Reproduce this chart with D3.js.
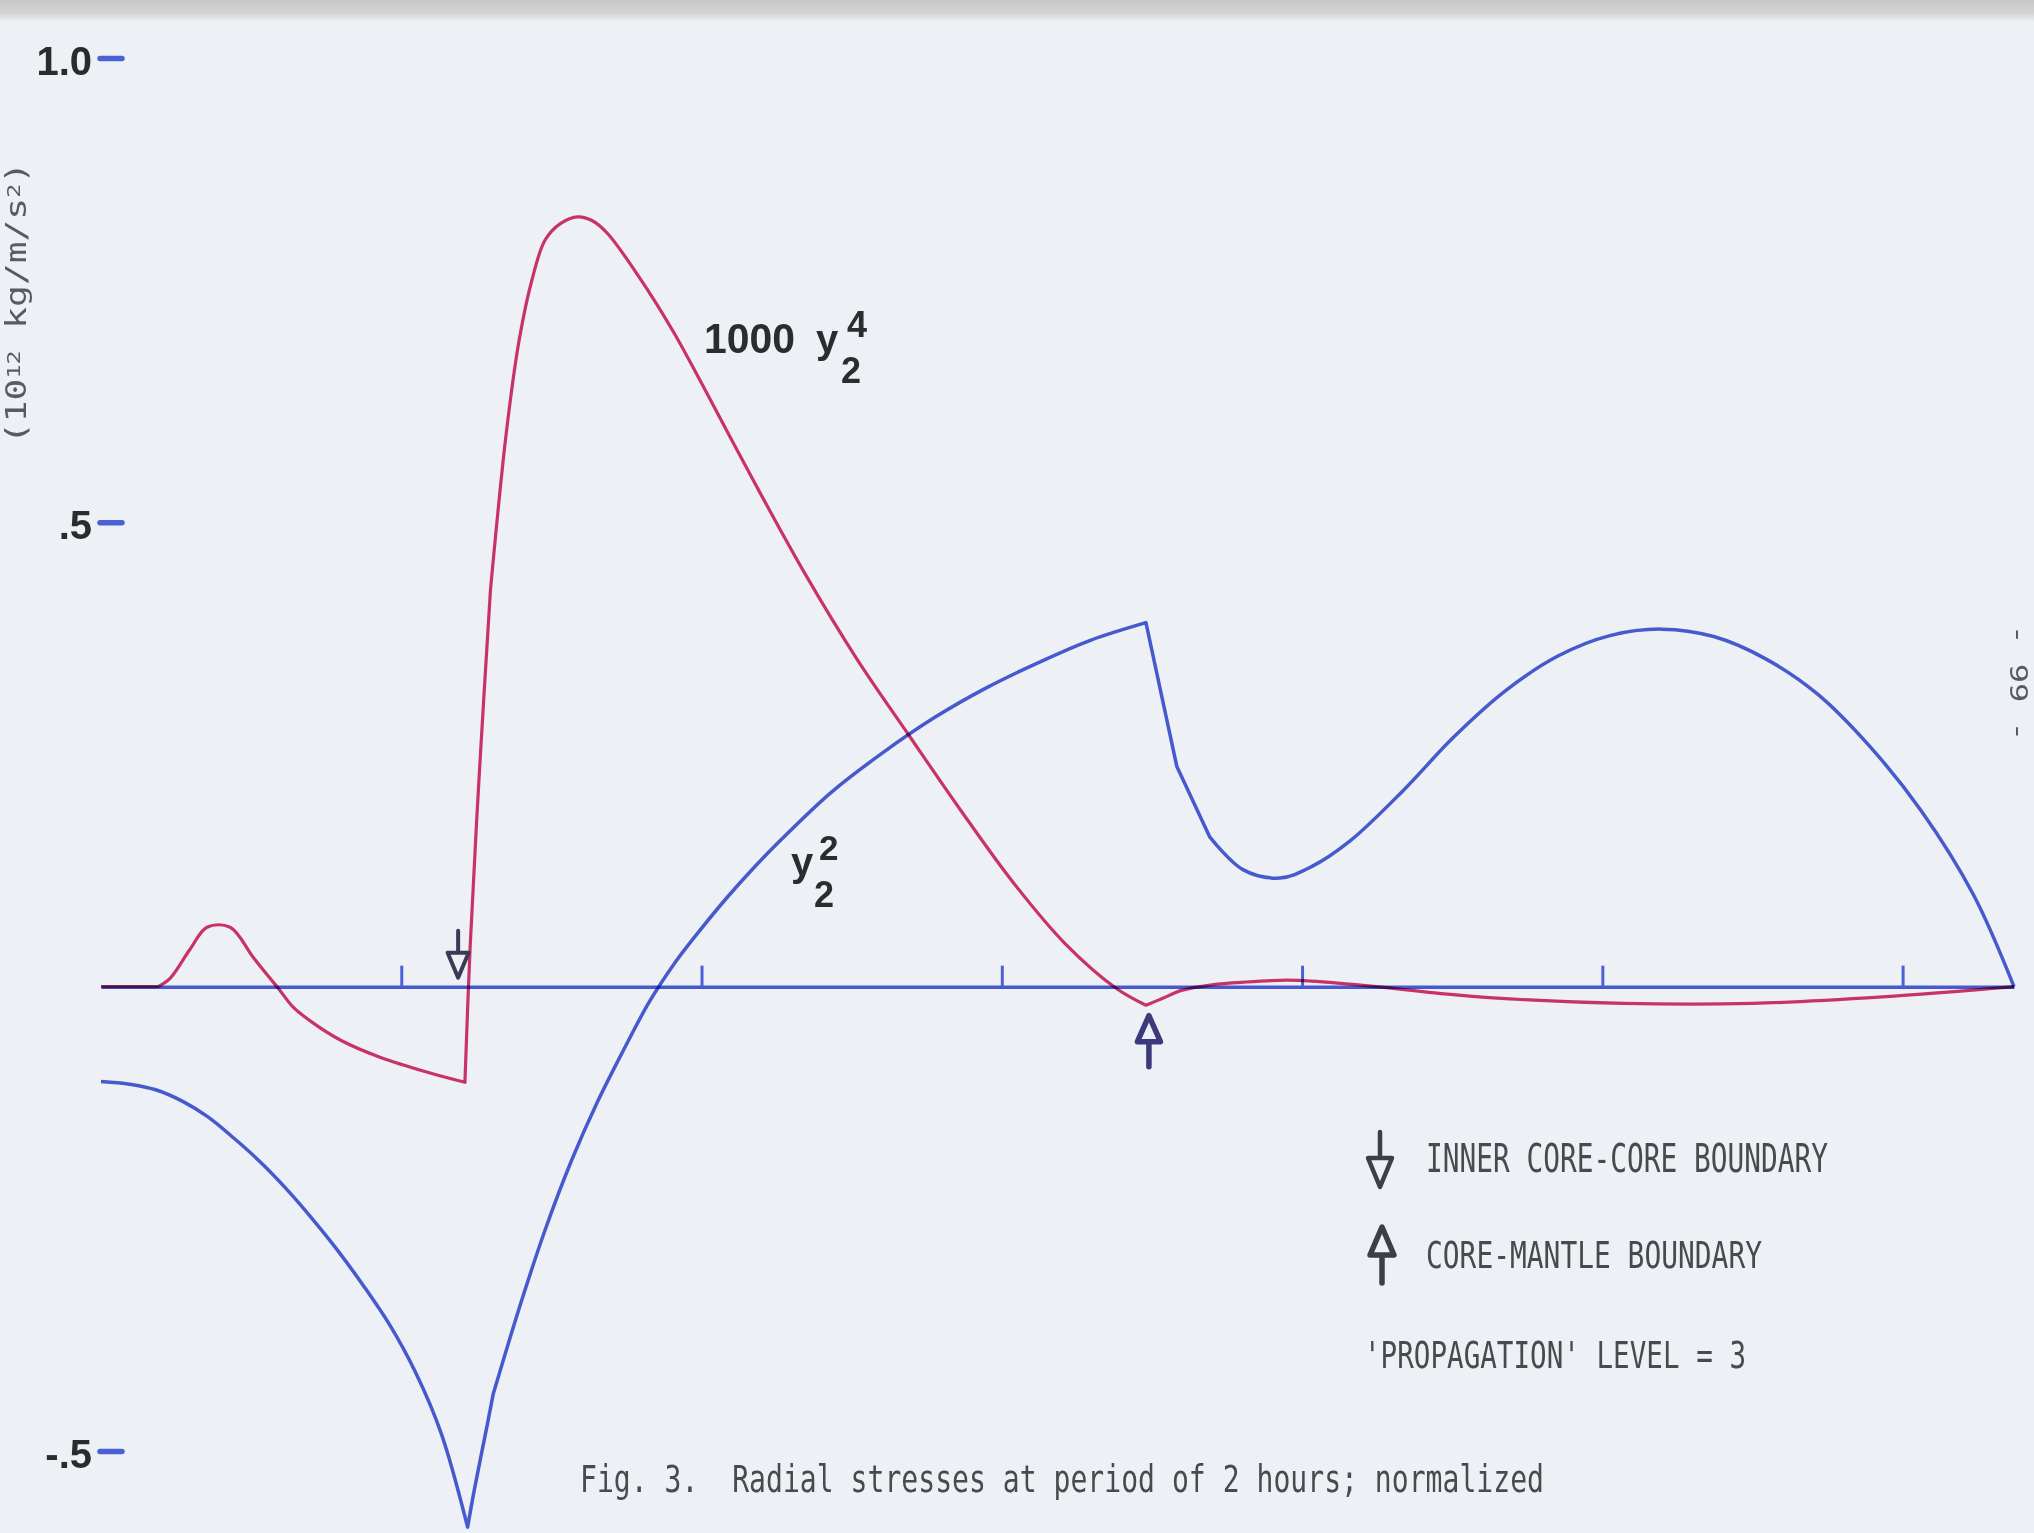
<!DOCTYPE html>
<html>
<head>
<meta charset="utf-8">
<script src="https://cdn.jsdelivr.net/npm/d3@7"></script>
<style>
  html, body { margin: 0; padding: 0; background: #edf0f5; }
  svg { display: block; }
</style>
</head>
<body>
<svg id="chart" width="2034" height="1533"></svg>
<script>
// Horizontal axis: radius in km, ticks every 1000 km
const radiusTicks = [1000, 2000, 3000, 4000, 5000, 6000];
const earthRadius = 6371;
const icbRadius = 1221;   // inner core - core boundary
const cmbRadius = 3480;   // core - mantle boundary

// Vertical axis ticks (10^12 kg/m/s^2, normalized)
const valueTicks = [1.0, 0.5, -0.5];
const valueTickLabels = ["1.0", ".5", "-.5"];

// 1000 * y2^4  (radius km, value)
const y4Radius = [0, 190, 230, 296, 353, 430, 506, 563, 596, 640, 706, 800, 929, 1096, 1212,
  1229, 1260, 1297, 1350, 1393, 1436, 1479, 1531, 1588, 1635, 1687, 1825, 1912, 1998,
  2171, 2344, 2517, 2690, 2863, 3036, 3209, 3382, 3480, 3540, 3598, 3700, 3814, 3950,
  4030, 4247, 4450, 4636, 5068, 5501, 5933, 6371];
const y4Value = [0, 0, 0.009, 0.040, 0.064, 0.064, 0.032, 0.009, -0.004, -0.022, -0.039, -0.058, -0.076, -0.093, -0.103,
  0.040, 0.230, 0.427, 0.597, 0.697, 0.762, 0.804, 0.822, 0.829, 0.825, 0.811, 0.748, 0.702, 0.651,
  0.546, 0.445, 0.353, 0.271, 0.190, 0.113, 0.047, -0.002, -0.020, -0.012, -0.004, 0.002, 0.005, 0.007,
  0.006, 0.000, -0.007, -0.012, -0.018, -0.018, -0.011, 0];

// y2^2  (radius km, value)
const y2Radius = [0, 96, 182, 269, 355, 442, 528, 615, 701, 788, 874, 961, 1047, 1133, 1221,
  1242, 1285, 1306, 1393, 1479, 1566, 1652, 1739, 1825, 1912, 1998, 2085, 2171, 2258, 2431, 2604,
  2777, 2950, 3122, 3295, 3480, 3583, 3693, 3803, 3926, 4030, 4160, 4333, 4506, 4679, 4852,
  5025, 5198, 5371, 5544, 5717, 5890, 6063, 6236, 6371];
const y2Value = [-0.102, -0.105, -0.111, -0.123, -0.140, -0.163, -0.188, -0.217, -0.249, -0.284, -0.322, -0.364, -0.415, -0.481, -0.582,
  -0.544, -0.474, -0.439, -0.346, -0.262, -0.188, -0.125, -0.069, -0.017, 0.026, 0.062, 0.096, 0.127, 0.156, 0.209, 0.252,
  0.290, 0.322, 0.349, 0.373, 0.392, 0.237, 0.161, 0.126, 0.117, 0.129, 0.157, 0.210, 0.269, 0.319, 0.356,
  0.378, 0.385, 0.377, 0.353, 0.315, 0.259, 0.189, 0.099, 0];

// radii where each plotted curve has a sharp corner
const y4Corners = [190, 1212, 1297, 3480];
const y2Corners = [1221, 1306, 3480, 3583, 3693];

const legendItems = ["INNER CORE-CORE BOUNDARY", "CORE-MANTLE BOUNDARY"];
const levelNote = "'PROPAGATION' LEVEL = 3";
const caption = "Fig. 3.  Radial stresses at period of 2 hours; normalized";

const blue = "#4b60d6", red = "#d8356c", ink = "#3a3c55", type = "#4a4a4e";

const svg = d3.select("#chart");

// paper and the scanner's shadow along the top edge
const defs = svg.append("defs");
const grad = defs.append("linearGradient").attr("id", "topShade").attr("x1", 0).attr("y1", 0).attr("x2", 0).attr("y2", 1);
grad.append("stop").attr("offset", "0").attr("stop-color", "#c6c6c7");
grad.append("stop").attr("offset", "0.6").attr("stop-color", "#d4d5d7");
grad.append("stop").attr("offset", "1").attr("stop-color", "#edf0f5");
svg.append("rect").attr("width", 2034).attr("height", 1533).attr("fill", "#edf0f5");
svg.append("rect").attr("width", 2034).attr("height", 22).attr("fill", "url(#topShade)");

const x = d3.scaleLinear().domain([0, earthRadius]).range([101, 2014]);
const y = d3.scaleLinear().domain([-0.5, 1.0]).range([1451, 58]);

// zero line with radius ticks
const xAxis = svg.append("g")
  .attr("transform", `translate(0,${y(0)})`)
  .call(d3.axisTop(x).tickValues(radiusTicks).tickSize(21).tickSizeOuter(0).tickFormat(""));
xAxis.select(".domain").attr("stroke", blue).attr("stroke-width", 3.5).style("mix-blend-mode", "multiply");
xAxis.selectAll(".tick line").attr("stroke", blue).attr("stroke-width", 3);

// value ticks: short blue dashes with lettered labels
const yAxis = svg.append("g")
  .attr("transform", "translate(122,0)")
  .call(d3.axisLeft(y).tickValues(valueTicks).tickSize(22).tickPadding(8)
    .tickFormat((d, i) => valueTickLabels[i]));
yAxis.select(".domain").remove();
yAxis.selectAll(".tick line").attr("stroke", blue).attr("stroke-width", 5.5).attr("stroke-linecap", "round");
yAxis.selectAll(".tick text")
  .attr("fill", "#2a2b2e").attr("font-family", "Liberation Sans, Arial, sans-serif")
  .attr("font-weight", "bold").attr("font-size", 40).attr("dy", "0.4em");

// curves: smooth between corners, sharp at the corners
function cornerPath(rs, vs, corners) {
  const pts = d3.zip(rs, vs);
  const pieces = [];
  let cur = [];
  pts.forEach(p => {
    cur.push(p);
    if (corners.includes(p[0]) && cur.length > 1) { pieces.push(cur); cur = [p]; }
  });
  if (cur.length > 1) pieces.push(cur);
  const gen = d3.line().x(d => x(d[0])).y(d => y(d[1])).curve(d3.curveCatmullRom.alpha(0.5));
  return pieces.map((pc, i) => i === 0 ? gen(pc) : gen(pc).replace(/^M/, "L")).join("");
}
svg.append("path")
  .attr("d", cornerPath(y2Radius, y2Value, y2Corners))
  .attr("fill", "none").attr("stroke", blue).attr("stroke-width", 3.5)
  .attr("stroke-linejoin", "round").style("mix-blend-mode", "multiply");
svg.append("path")
  .attr("d", cornerPath(y4Radius, y4Value, y4Corners))
  .attr("fill", "none").attr("stroke", red).attr("stroke-width", 3.2)
  .attr("stroke-linejoin", "round").style("mix-blend-mode", "multiply");

// boundary markers
function downArrow(g, cx, tipY, w, h, stem, color, sw) {
  g.append("path")
    .attr("d", `M${cx - w / 2},${tipY - h} L${cx + w / 2},${tipY - h} L${cx},${tipY} Z M${cx},${tipY - h} V${tipY - h - stem}`)
    .attr("fill", "none").attr("stroke", color).attr("stroke-width", sw).attr("stroke-linejoin", "round").attr("stroke-linecap", "round");
}
function upArrow(g, cx, tipY, w, h, stem, color, sw) {
  g.append("path")
    .attr("d", `M${cx},${tipY} L${cx + w / 2},${tipY + h} L${cx - w / 2},${tipY + h} Z M${cx},${tipY + h} V${tipY + h + stem}`)
    .attr("fill", "none").attr("stroke", color).attr("stroke-width", sw).attr("stroke-linejoin", "round").attr("stroke-linecap", "round");
}
const marks = svg.append("g");
downArrow(marks, x(icbRadius) - 9.5, y(0) - 9, 21, 25, 22, ink, 4);
upArrow(marks, x(cmbRadius) + 3, y(0) + 29, 23, 26, 25, "#3c3a7c", 5.5);

// curve labels
const letter = "Liberation Sans, Arial, sans-serif";
const lbl = svg.append("g").attr("fill", "#2b2c2f").attr("font-family", letter).attr("font-weight", "bold");
lbl.append("text").attr("x", 704).attr("y", 353).attr("font-size", 42).attr("textLength", 91).attr("lengthAdjust", "spacingAndGlyphs").text("1000");
lbl.append("text").attr("x", 816).attr("y", 353).attr("font-size", 40).text("y");
lbl.append("text").attr("x", 847).attr("y", 337).attr("font-size", 36).text("4");
lbl.append("text").attr("x", 841).attr("y", 383).attr("font-size", 36).text("2");
lbl.append("text").attr("x", 791).attr("y", 876).attr("font-size", 40).text("y");
lbl.append("text").attr("x", 819).attr("y", 860).attr("font-size", 35).text("2");
lbl.append("text").attr("x", 814).attr("y", 907).attr("font-size", 36).text("2");

// typed legend and caption
const mono = "DejaVu Sans Mono, Liberation Mono, monospace";
const typed = svg.append("g").attr("fill", type).attr("font-family", mono);
downArrow(typed, 1380, 1187, 24, 29, 26, "#3d3e46", 4.5);
upArrow(typed, 1382, 1227, 24, 28, 28, "#3d3e46", 5.5);
typed.append("text").attr("x", 1426).attr("y", 1172).attr("font-size", 39)
  .attr("textLength", 402).attr("lengthAdjust", "spacingAndGlyphs").text(legendItems[0]);
typed.append("text").attr("x", 1426).attr("y", 1268).attr("font-size", 37)
  .attr("textLength", 336).attr("lengthAdjust", "spacingAndGlyphs").text(legendItems[1]);
typed.append("text").attr("x", 1364).attr("y", 1368).attr("font-size", 37)
  .attr("textLength", 382).attr("lengthAdjust", "spacingAndGlyphs").text(levelNote);
typed.append("text").attr("x", 580).attr("y", 1492).attr("font-size", 37)
  .attr("textLength", 964).attr("lengthAdjust", "spacingAndGlyphs").attr("xml:space", "preserve").style("white-space", "pre").text(caption);

// unit label along the left margin
const unit = svg.append("text").attr("transform", "translate(26,303) rotate(-90)")
  .attr("text-anchor", "middle").attr("fill", "#5a5a60").attr("font-family", mono).attr("font-size", 28)
  .attr("textLength", 282).attr("lengthAdjust", "spacingAndGlyphs");
unit.append("tspan").text("(10");
unit.append("tspan").attr("baseline-shift", "6").attr("font-size", 18).text("12");
unit.append("tspan").text(" kg/m/s");
unit.append("tspan").attr("baseline-shift", "6").attr("font-size", 18).text("2");
unit.append("tspan").text(")");

// page number in the right margin
svg.append("text").attr("transform", "translate(2010,683) rotate(90)")
  .attr("text-anchor", "middle").attr("fill", "#5a5a60").attr("font-family", mono).attr("font-size", 25)
  .attr("textLength", 116).attr("lengthAdjust", "spacingAndGlyphs").style("white-space", "pre").text("- 99 -");
</script>
</body>
</html>
